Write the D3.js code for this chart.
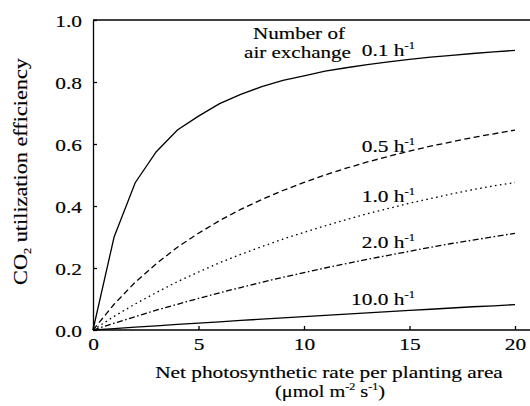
<!DOCTYPE html>
<html>
<head>
<meta charset="utf-8">
<script src="https://cdn.jsdelivr.net/npm/d3@7"></script>
<style>
  html, body { margin: 0; padding: 0; background: #fff; }
  svg text { font-family: 'Liberation Serif', 'DejaVu Serif', serif; fill: #000; stroke: #000; stroke-width: 0.15; }
  .axis path, .axis line { stroke: #000; stroke-width: 1.3; }
</style>
</head>
<body>
<div id="chart"></div>
<script>
const width = 530, height = 406;
const FONT = "'Liberation Serif', 'DejaVu Serif', serif";
const STRETCH = 1.26; // the original lettering is wider than plain Times

// Net photosynthetic rate (x) values
const rates = [0, 1, 2, 3, 4, 5, 6, 7, 8, 9, 10, 11, 12, 13, 14, 15, 16, 17, 18, 19, 20];

// CO2 utilization efficiency per air exchange number
const eff01 = [0, 0.30, 0.475, 0.575, 0.645, 0.69, 0.73, 0.76, 0.785, 0.805, 0.82, 0.835, 0.846, 0.856, 0.865, 0.873, 0.88, 0.886, 0.892, 0.897, 0.902];
const eff05 = [0, 0.083, 0.154, 0.214, 0.267, 0.312, 0.353, 0.389, 0.421, 0.45, 0.476, 0.5, 0.522, 0.542, 0.56, 0.577, 0.593, 0.607, 0.621, 0.633, 0.645];
const eff10 = [0, 0.044, 0.084, 0.121, 0.156, 0.187, 0.217, 0.244, 0.269, 0.293, 0.315, 0.336, 0.356, 0.375, 0.392, 0.409, 0.424, 0.439, 0.453, 0.465, 0.476];
const eff20 = [0, 0.022, 0.043, 0.064, 0.083, 0.102, 0.12, 0.137, 0.154, 0.17, 0.185, 0.2, 0.214, 0.228, 0.241, 0.254, 0.267, 0.279, 0.29, 0.301, 0.312];
const eff100 = [0, 0.0045, 0.009, 0.013, 0.018, 0.022, 0.026, 0.031, 0.035, 0.039, 0.043, 0.047, 0.051, 0.055, 0.059, 0.063, 0.067, 0.071, 0.075, 0.078, 0.082];

const seriesNames = ['0.1', '0.5', '1.0', '2.0', '10.0'];
const seriesValues = [eff01, eff05, eff10, eff20, eff100];
// label baseline (efficiency units) for each curve label
const labelY = [0.885, 0.575, 0.414, 0.266, 0.08];

const xTicks = [0, 5, 10, 15, 20];
const yTicks = [0, 0.2, 0.4, 0.6, 0.8, 1.0];

const dashes = [null, '6,3.5', '1.6,3.4', '6,2.5,1.6,2.5', null];

const svg = d3.select('#chart').append('svg')
  .attr('width', width)
  .attr('height', height)
  .attr('font-family', FONT);

const x = d3.scaleLinear().domain([0, 20]).range([93, 515]);
const y = d3.scaleLinear().domain([0, 1]).range([330, 20]);

// put a text at (tx,ty), widened horizontally
function stretch(sel, tx, ty, sx, rot) {
  sel.attr('x', 0).attr('y', 0)
    .attr('transform', `translate(${tx},${ty})` + (rot ? ` rotate(${rot})` : '') + ` scale(${sx},1)`);
}
function fitWidth(sel, tx, ty, w, rot) {
  const len = sel.node().getComputedTextLength();
  stretch(sel, tx, ty, w / len, rot);
}

// Axes (ticks point inward)
svg.append('g')
  .attr('class', 'axis')
  .attr('transform', 'translate(0,330)')
  .call(d3.axisBottom(x).tickValues(xTicks).tickFormat(d3.format('d')).tickSizeInner(-4).tickSizeOuter(0))
  .call(g => g.attr('font-family', FONT).attr('font-size', 17))
  .call(g => g.select('.domain').attr('d', 'M93,0H530'))
  .call(g => g.selectAll('.tick text').attr('dy', null).each(function () {
    stretch(d3.select(this), 0, 20, STRETCH);
  }));

svg.append('g')
  .attr('class', 'axis')
  .attr('transform', 'translate(93,0)')
  .call(d3.axisLeft(y).tickValues(yTicks).tickFormat(d3.format('.1f')).tickSizeInner(-4).tickSizeOuter(0))
  .call(g => g.attr('font-family', FONT).attr('font-size', 17))
  .call(g => g.selectAll('.tick text').attr('dy', null).each(function () {
    stretch(d3.select(this), -11, 6, STRETCH);
  }));

// top frame line
svg.append('line')
  .attr('x1', 93).attr('x2', 530)
  .attr('y1', y(1)).attr('y2', y(1))
  .attr('stroke', '#000').attr('stroke-width', 1.3);

// Curves
const line = d3.line()
  .x((d, i) => x(rates[i]))
  .y(d => y(d));

svg.append('g')
  .selectAll('path')
  .data(seriesValues)
  .join('path')
  .attr('d', d => line(d))
  .attr('fill', 'none')
  .attr('stroke', '#000')
  .attr('stroke-width', 1.3)
  .attr('stroke-dasharray', (d, i) => dashes[i]);

// Curve labels
const labels = svg.append('g')
  .attr('font-size', 17)
  .selectAll('text')
  .data(seriesNames)
  .join('text')
  .attr('text-anchor', 'end');
labels.append('tspan').text(d => d + ' h');
labels.append('tspan').attr('font-size', 10).attr('dy', -7).text('-1');
labels.each(function (d, i) {
  stretch(d3.select(this), 415, y(labelY[i]), STRETCH);
});

// "Number of air exchange"
fitWidth(svg.append('text').attr('text-anchor', 'middle').attr('font-size', 17).text('Number of'),
  299, 39, 92);
fitWidth(svg.append('text').attr('text-anchor', 'middle').attr('font-size', 17).text('air exchange'),
  297.5, 58, 107);

// Axis titles
fitWidth(svg.append('text').attr('text-anchor', 'middle').attr('font-size', 17)
  .text('Net photosynthetic rate per planting area'), 329, 378, 348);

const xt2 = svg.append('text')
  .attr('text-anchor', 'middle')
  .attr('font-size', 17);
xt2.append('tspan').text('(\u03bcmol m');
xt2.append('tspan').attr('font-size', 10).attr('dy', -7).text('-2');
xt2.append('tspan').attr('dy', 7).text(' s');
xt2.append('tspan').attr('font-size', 10).attr('dy', -7).text('-1');
xt2.append('tspan').attr('dy', 7).text(')');
fitWidth(xt2, 330, 397, 110);

const yt = svg.append('text')
  .attr('text-anchor', 'middle')
  .attr('font-size', 18);
yt.append('tspan').text('CO');
yt.append('tspan').attr('font-size', 10).attr('dy', 4).text('2');
yt.append('tspan').attr('dy', -4).text(' utilization efficiency');
fitWidth(yt, 27, 171.5, 227, -90);
</script>
</body>
</html>
